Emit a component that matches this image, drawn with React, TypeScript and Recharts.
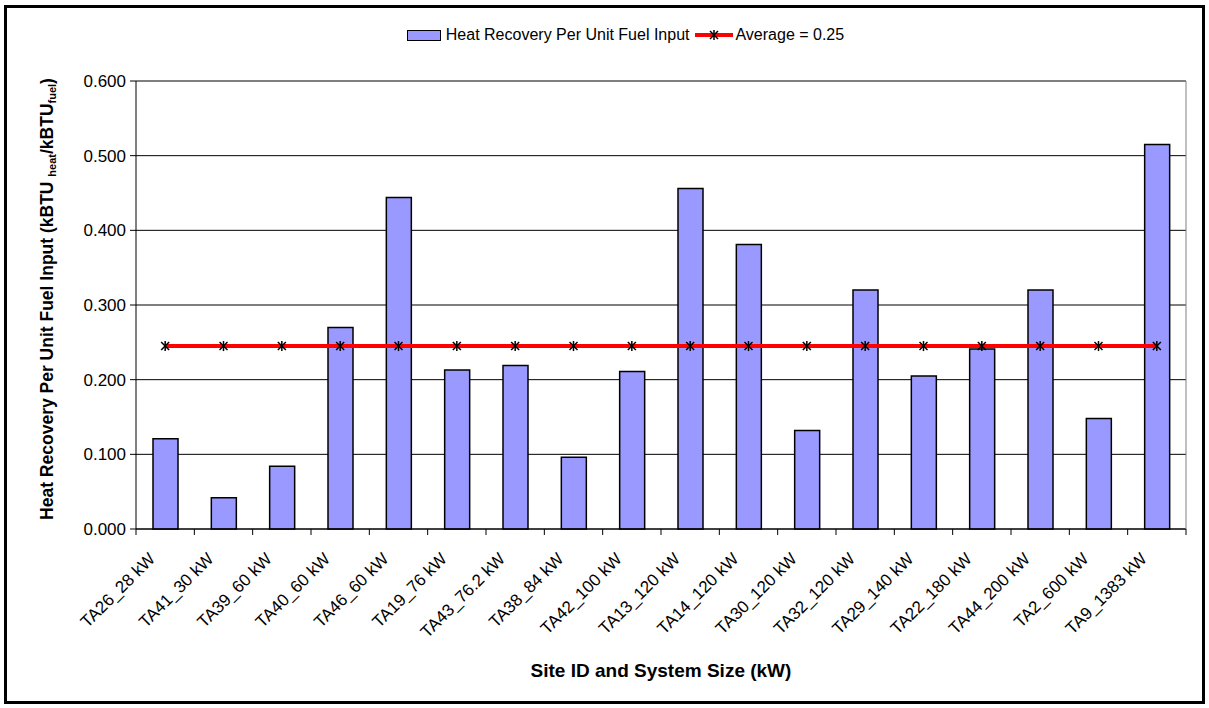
import {Bar, CartesianGrid, ComposedChart, Legend, Line, XAxis, YAxis} from "recharts";

const siteLabels = [
  "TA26_28 kW", "TA41_30 kW", "TA39_60 kW", "TA40_60 kW", "TA46_60 kW", "TA19_76 kW",
  "TA43_76.2 kW", "TA38_84 kW", "TA42_100 kW", "TA13_120 kW", "TA14_120 kW", "TA30_120 kW",
  "TA32_120 kW", "TA29_140 kW", "TA22_180 kW", "TA44_200 kW", "TA2_600 kW", "TA9_1383 kW",
];

// heat recovery per unit fuel input (kBTU heat / kBTU fuel)
const heatRecovery = [
  0.121, 0.042, 0.084, 0.270, 0.444, 0.213, 0.219, 0.096, 0.211,
  0.456, 0.381, 0.132, 0.320, 0.205, 0.241, 0.320, 0.148, 0.515,
];

// flat average line (legend says 0.25, drawn at ~0.245)
const averageLine = [
  0.245, 0.245, 0.245, 0.245, 0.245, 0.245, 0.245, 0.245, 0.245,
  0.245, 0.245, 0.245, 0.245, 0.245, 0.245, 0.245, 0.245, 0.245,
];

const yTicks = [0, 0.1, 0.2, 0.3, 0.4, 0.5, 0.6];

const FONT = "'Liberation Sans', Arial, sans-serif";
const BAR_FILL = "#9999FF";
const TICK_FONT = 17;
const BAND = 1050 / siteLabels.length; // plot width / categories

const chartData = siteLabels.map((name, i) => ({
  name,
  heat: heatRecovery[i],
  avg: averageLine[i],
}));

function StarDot({cx, cy}: any) {
  if (cx == null || cy == null) return null;
  return (
    <g stroke="#000" strokeWidth={1.5}>
      <line x1={cx - 4} y1={cy - 4} x2={cx + 4} y2={cy + 4}/>
      <line x1={cx - 4} y1={cy + 4} x2={cx + 4} y2={cy - 4}/>
      <line x1={cx} y1={cy - 5} x2={cx} y2={cy + 5}/>
    </g>
  );
}

function SiteTick({x, y, payload, index}: any) {
  const left = x - BAND / 2;
  const isLast = index === siteLabels.length - 1;
  const ax = x - 9;
  const ay = y + 31;
  return (
    <g>
      <line x1={left} y1={y} x2={left} y2={y + 6} stroke="#000"/>
      {isLast && <line x1={x + BAND / 2} y1={y} x2={x + BAND / 2} y2={y + 6} stroke="#000"/>}
      <text x={ax} y={ay} textAnchor="end" fontSize={TICK_FONT} fontFamily={FONT} fill="#000"
            transform={`rotate(-45, ${ax}, ${ay})`}>
        {payload.value}
      </text>
    </g>
  );
}

function YTitle() {
  return (
    <text x={53} y={299} textAnchor="middle" fontSize={17.5} fontWeight="bold" fontFamily={FONT}
          fill="#000" transform="rotate(-90, 53, 299)">
      Heat Recovery Per Unit Fuel Input (kBTU <tspan fontSize={11} dy={3}>heat</tspan>
      <tspan dy={-3}>/kBTU</tspan><tspan fontSize={11} dy={3}>fuel</tspan><tspan dy={-3}>)</tspan>
    </text>
  );
}

function renderLegend() {
  return (
    <div style={{
      height: 56, display: "flex", justifyContent: "center", alignItems: "flex-start",
      paddingLeft: 42, fontFamily: FONT, fontSize: 16, color: "#000", lineHeight: "20px",
    }}>
      <div style={{display: "flex", alignItems: "center"}}>
        <span style={{
          display: "inline-block", width: 32, height: 9, background: BAR_FILL,
          border: "1px solid #000", marginRight: 5,
        }}/>
        <span>Heat Recovery Per Unit Fuel Input</span>
        <svg width={38} height={12} style={{margin: "0 2px 0 6px"}}>
          <line x1={0} y1={6} x2={38} y2={6} stroke="#FF0000" strokeWidth={4}/>
          <StarDot cx={19} cy={6}/>
        </svg>
        <span>Average = 0.25</span>
      </div>
    </div>
  );
}

export default function App() {
  return (
    <div style={{position: "absolute", left: 0, top: 0, width: 1209, height: 708, background: "#fff"}}>
      <ComposedChart
        width={1209}
        height={708}
        data={chartData}
        margin={{top: 25, right: 0, bottom: 0, left: 0}}
      >
        <CartesianGrid vertical={false} stroke="#000" strokeWidth={1}/>
        <XAxis
          dataKey="name"
          height={179}
          interval={0}
          tickSize={0}
          tickMargin={0}
          tick={<SiteTick/>}
          axisLine={{stroke: "#000"}}
          label={{
            value: "Site ID and System Size (kW)", position: "insideBottom", offset: 31,
            style: {fontFamily: FONT, fontSize: 19, fontWeight: "bold", fill: "#000"},
          }}
        />
        <YAxis
          width={136}
          domain={[0, 0.6]}
          ticks={yTicks}
          interval={0}
          tickFormatter={(v: number) => v.toFixed(3)}
          tickSize={6}
          tickMargin={4}
          tick={{fontSize: TICK_FONT, fontFamily: FONT, fill: "#000"}}
          axisLine={{stroke: "#000"}}
          tickLine={{stroke: "#000"}}
          label={<YTitle/>}
        />
        <YAxis yAxisId="frame" orientation="right" width={23} tick={false} tickLine={false}
               axisLine={{stroke: "#808080"}} domain={[0, 0.6]}/>
        <Legend verticalAlign="top" content={renderLegend}/>
        <Bar dataKey="heat" fill={BAR_FILL} stroke="#000" strokeWidth={1.5} barSize={25}
             isAnimationActive={false}/>
        <Line dataKey="avg" stroke="#FF0000" strokeWidth={4} dot={<StarDot/>} activeDot={false}
              isAnimationActive={false}/>
      </ComposedChart>
      <div style={{
        position: "absolute", left: 4, top: 5, width: 1201, height: 699,
        border: "3px solid #000", boxSizing: "border-box", pointerEvents: "none",
      }}/>
    </div>
  );
}
